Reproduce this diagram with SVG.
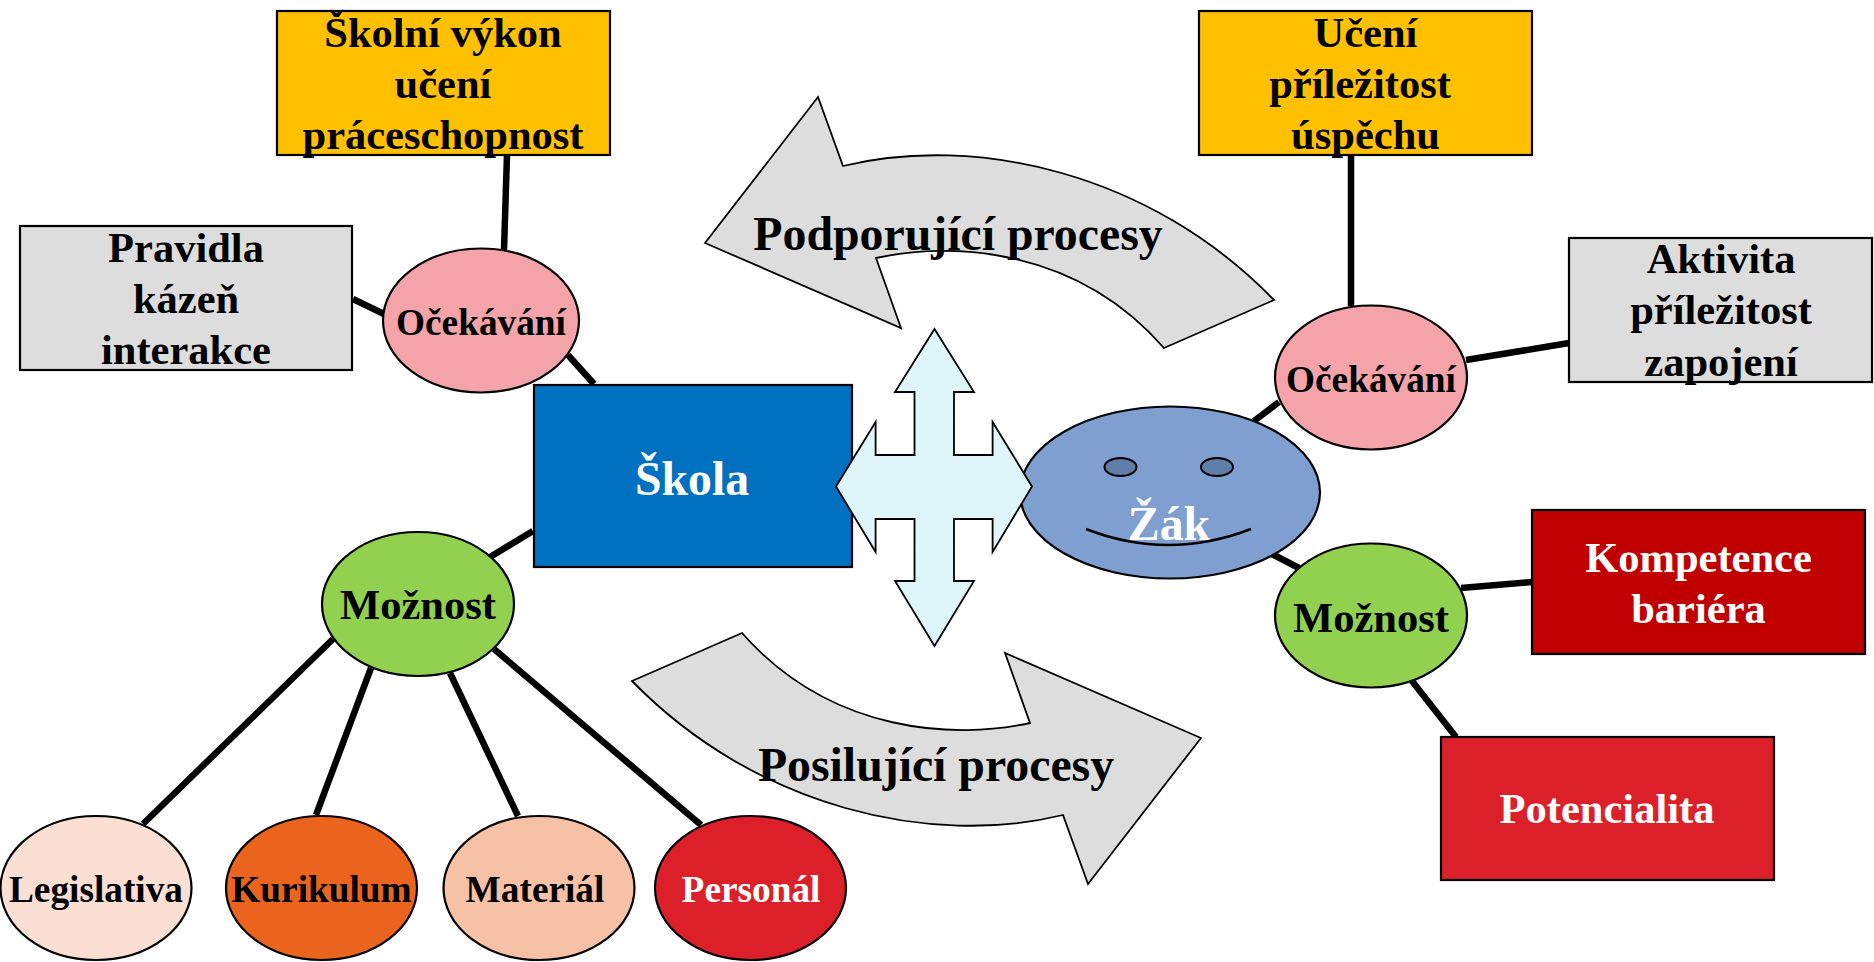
<svg xmlns="http://www.w3.org/2000/svg" width="1874" height="962" viewBox="0 0 1874 962">
<style>
text{font-family:"Liberation Serif","Times New Roman",serif;font-weight:bold;text-anchor:middle;fill:#000}
.w{fill:#fff}
.f43{font-size:42.500px}
.f37{font-size:37.300px}
.f48{font-size:47.800px}
.n{stroke:#000;stroke-width:2.200}
.c line{stroke:#000;stroke-width:6.500}
.a{fill:#dddddd;stroke:#000;stroke-width:1.800}
</style>
<rect width="1874" height="962" fill="#fff"/>
<g id="connectors" class="c">
<line x1="507" y1="155" x2="504" y2="250"/>
<line x1="353" y1="299" x2="384" y2="314"/>
<line x1="568" y1="355" x2="594" y2="384"/>
<line x1="533" y1="531" x2="490" y2="557"/>
<line x1="333" y1="639" x2="143" y2="824"/>
<line x1="371" y1="668" x2="316" y2="815"/>
<line x1="450" y1="673" x2="518" y2="816"/>
<line x1="494" y1="649" x2="701" y2="825"/>
<line x1="1351" y1="155" x2="1351" y2="306"/>
<line x1="1466" y1="360" x2="1569" y2="343"/>
<line x1="1279" y1="402" x2="1254" y2="421"/>
<line x1="1272" y1="554" x2="1299" y2="568"/>
<line x1="1461" y1="588" x2="1532" y2="582"/>
<line x1="1412" y1="681" x2="1456" y2="737"/>
</g>
<g id="arrow-podporujici">
<path class="a" d="M705,243 L818,97 L843,166 C975,134 1150,172 1274,300 L1164,348 C1075,246 950,242 876,258 L901,328 Z"/>
<text class="f48" x="958" y="250">Podporující procesy</text>
</g>
<g id="arrow-posilujici">
<path class="a" d="M1201,738 L1088,884 L1063,815 C932,847 757,809 632,681 L742,633 C832,735 957,739 1030,723 L1005,653 Z"/>
<text class="f48" x="936" y="781">Posilující procesy</text>
</g>
<g id="skolni-vykon">
<rect class="n" x="277" y="11" width="333" height="144" fill="#ffc000"/>
<text class="f43" x="443" y="47">Školní výkon</text>
<text class="f43" x="443" y="98">učení</text>
<text class="f43" x="443" y="149">práceschopnost</text>
</g>
<g id="pravidla">
<rect class="n" x="20" y="226" width="332" height="144" fill="#dddddd"/>
<text class="f43" x="186" y="262">Pravidla</text>
<text class="f43" x="186" y="313">kázeň</text>
<text class="f43" x="186" y="364">interakce</text>
</g>
<g id="ocekavani-skola">
<ellipse class="n" cx="481" cy="320.500" rx="98" ry="72" fill="#f4a3a8"/>
<text class="f37" x="481" y="335">Očekávání</text>
</g>
<g id="skola">
<rect class="n" x="534" y="385" width="318" height="182" fill="#0070c0"/>
<text class="f48 w" x="692" y="495">Škola</text>
</g>
<g id="moznost-skola">
<ellipse class="n" cx="418" cy="604" rx="96" ry="72" fill="#92d050"/>
<text class="f43" x="418" y="619">Možnost</text>
</g>
<g id="legislativa">
<ellipse class="n" cx="96" cy="888" rx="95.500" ry="72" fill="#fbdfd2"/>
<text class="f37" x="96" y="902">Legislativa</text>
</g>
<g id="kurikulum">
<ellipse class="n" cx="321.500" cy="888" rx="95.500" ry="72" fill="#ea641e"/>
<text class="f37" x="321.500" y="902">Kurikulum</text>
</g>
<g id="material">
<ellipse class="n" cx="539" cy="888" rx="95.500" ry="72" fill="#f6c1a4"/>
<text class="f37" x="535" y="902">Materiál</text>
</g>
<g id="personal">
<ellipse class="n" cx="750.500" cy="888" rx="95.500" ry="72" fill="#dc202a"/>
<text class="f37 w" x="751" y="902">Personál</text>
</g>
<g id="zak">
<ellipse class="n" cx="1170" cy="492.500" rx="150" ry="86" fill="#7f9fd1"/>
<ellipse cx="1120.500" cy="467" rx="16" ry="9" fill="#5f7fa8" stroke="#000" stroke-width="2"/>
<ellipse cx="1217" cy="467" rx="16" ry="9" fill="#5f7fa8" stroke="#000" stroke-width="2"/>
<text class="f48 w" x="1169" y="540">Žák</text>
<path d="M1086,529 Q1168,561 1251,529" fill="none" stroke="#000" stroke-width="2.500"/>
</g>
<g id="cross-arrow">
<path d="M934.500,329 L974,392 L954,392 L954,455 L992.600,455 L992.600,422 L1032,486.500 L992.600,552 L992.600,519 L954,519 L954,581 L974,581 L934.500,646 L895,581 L914.500,581 L914.500,519 L875.600,519 L875.600,552 L836,486.500 L875.600,422 L875.600,455 L914.500,455 L914.500,392 L895,392 Z" fill="#def5fa" stroke="#000" stroke-width="1.800"/>
</g>
<g id="uceni">
<rect class="n" x="1199" y="11" width="333" height="144" fill="#ffc000"/>
<text class="f43" x="1365.500" y="47">Učení</text>
<text class="f43" x="1360" y="98">příležitost</text>
<text class="f43" x="1365.500" y="149">úspěchu</text>
</g>
<g id="aktivita">
<rect class="n" x="1569" y="238" width="303" height="144" fill="#dddddd"/>
<text class="f43" x="1721" y="273">Aktivita</text>
<text class="f43" x="1721" y="324">příležitost</text>
<text class="f43" x="1721" y="376">zapojení</text>
</g>
<g id="ocekavani-zak">
<ellipse class="n" cx="1371" cy="377.500" rx="96" ry="72" fill="#f4a3a8"/>
<text class="f37" x="1371" y="392">Očekávání</text>
</g>
<g id="moznost-zak">
<ellipse class="n" cx="1371" cy="615.500" rx="96" ry="72" fill="#92d050"/>
<text class="f43" x="1371" y="632">Možnost</text>
</g>
<g id="kompetence">
<rect class="n" x="1532" y="510" width="333" height="144" fill="#c00000"/>
<text class="f43 w" x="1698.500" y="572">Kompetence</text>
<text class="f43 w" x="1698.500" y="623">bariéra</text>
</g>
<g id="potencialita">
<rect class="n" x="1441" y="737" width="333" height="143" fill="#dc202a"/>
<text class="f43 w" x="1607" y="823">Potencialita</text>
</g>
</svg>
